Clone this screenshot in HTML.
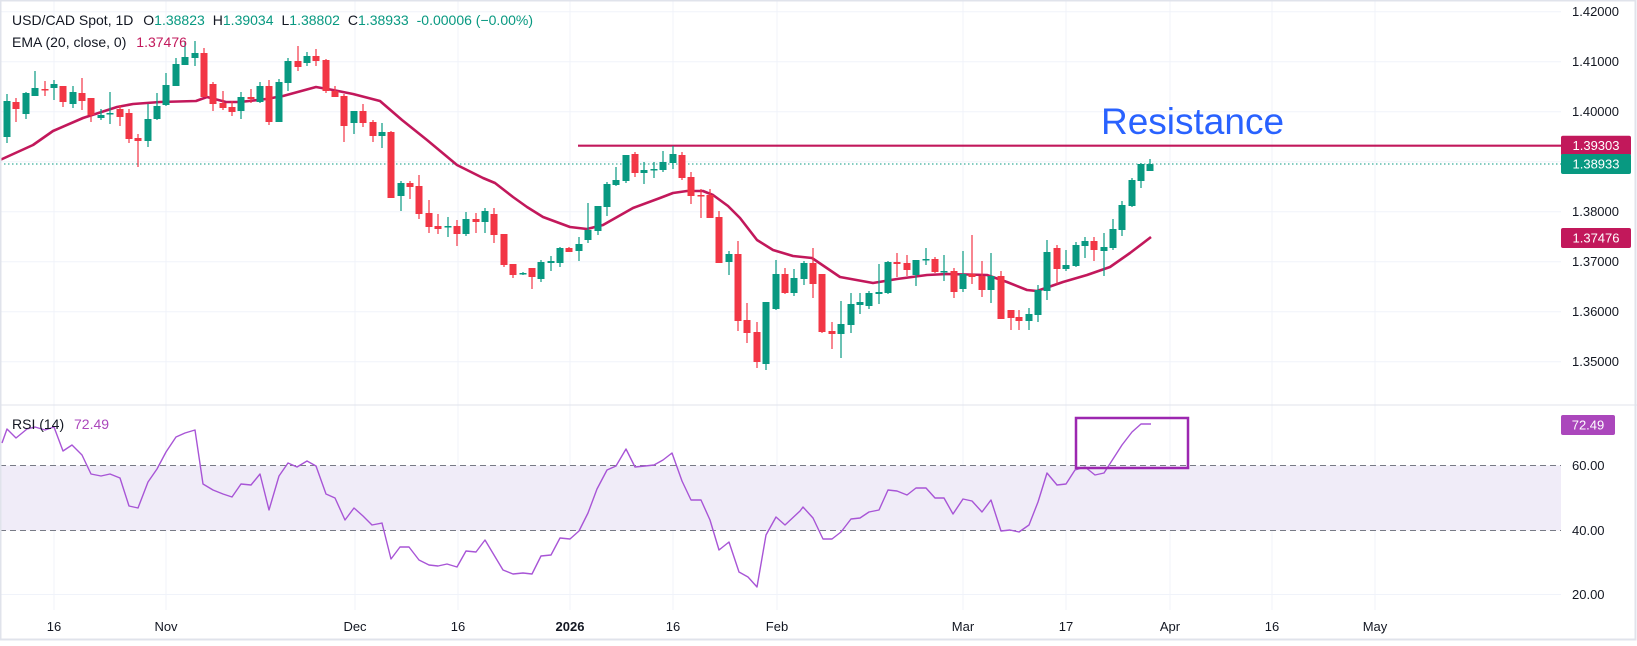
<!DOCTYPE html>
<html><head><meta charset="utf-8">
<style>
html,body{margin:0;padding:0;background:#fff;}
body{width:1637px;height:641px;overflow:hidden;font-family:"Liberation Sans",sans-serif;}
svg text{font-family:"Liberation Sans",sans-serif;}
</style></head>
<body>
<svg id="c" width="1637" height="641" viewBox="0 0 1637 641" xmlns="http://www.w3.org/2000/svg">
<rect x="0" y="0" width="1637" height="641" fill="#fff"/>
<!-- grid -->
<g stroke="#f0f3fa" stroke-width="1">
<line x1="0" y1="11.7" x2="1561" y2="11.7"/><line x1="0" y1="61.7" x2="1561" y2="61.7"/>
<line x1="0" y1="111.7" x2="1561" y2="111.7"/><line x1="0" y1="161.7" x2="1561" y2="161.7"/>
<line x1="0" y1="211.7" x2="1561" y2="211.7"/><line x1="0" y1="261.7" x2="1561" y2="261.7"/>
<line x1="0" y1="311.7" x2="1561" y2="311.7"/><line x1="0" y1="361.7" x2="1561" y2="361.7"/>
<line x1="0" y1="594.5" x2="1561" y2="594.5"/>
<line x1="54" y1="0" x2="54" y2="610"/><line x1="166" y1="0" x2="166" y2="610"/>
<line x1="355" y1="0" x2="355" y2="610"/><line x1="458" y1="0" x2="458" y2="610"/>
<line x1="570" y1="0" x2="570" y2="610"/><line x1="673" y1="0" x2="673" y2="610"/>
<line x1="777" y1="0" x2="777" y2="610"/><line x1="963" y1="0" x2="963" y2="610"/>
<line x1="1066" y1="0" x2="1066" y2="610"/><line x1="1170" y1="0" x2="1170" y2="610"/>
<line x1="1272" y1="0" x2="1272" y2="610"/><line x1="1375" y1="0" x2="1375" y2="610"/>
</g>
<!-- pane separator -->
<line x1="0" y1="405" x2="1637" y2="405" stroke="#e0e3eb" stroke-width="1"/>
<!-- RSI band -->
<rect x="0" y="465.5" width="1561" height="65" fill="#f0ecf8"/>
<line x1="0" y1="465.5" x2="1561" y2="465.5" stroke="#787b86" stroke-dasharray="6,4"/>
<line x1="0" y1="530.5" x2="1561" y2="530.5" stroke="#787b86" stroke-dasharray="6,4"/>
<!-- last price dotted -->
<line x1="0" y1="164" x2="1561" y2="164" stroke="#089981" stroke-width="1" stroke-dasharray="1.5,2.5"/>
<!-- resistance -->
<line x1="578" y1="145.7" x2="1561" y2="145.7" stroke="#c2185b" stroke-width="2.2"/>
<text x="1101" y="134" font-size="37" fill="#2962ff">Resistance</text>
<!-- EMA -->
<polyline fill="none" stroke="#c2185b" stroke-width="2.6" stroke-linejoin="round" points="0,160 33,145 53,131 83,118 117,107 133,104 160,102 196,101 207,97 226,102 240,102 266,99 283,96 316,87 333,90 353,94 380,101 402,120 427,140 457,165 467,170 483,178 495,183 513,197 527,207 543,217 570,227 587,229 603,225 633,208 660,198 673,193 687,191 703,191 713,195 728,206 740,218 757,240 773,250 793,256 812,258 840,277 873,283 897,279 927,275 947,274 987,275 1007,282 1027,290 1037,291 1063,282 1087,275 1110,267 1130,253 1151,237"/>
<g id="candles"></g>
<!-- RSI line -->
<polyline fill="none" stroke="#a855d6" stroke-width="1.4" stroke-linejoin="round" points="2,443 7,429 16,438 27,429 35,427 45,430 54,427 63,451 72,445 82,455 91,474 101,476 110,474 120,478 129,506 138,508 148,482 157,469 166,452 176,437 185,433 195,430 203,484 213,490 223,494 232,497 241,484 251,485 260,474 269,510 279,476 288,463 297,467 307,461 316,466 326,494 335,498 345,520 354,508 363,516 372,525 382,523 391,559 400,547 409,547 419,560 429,565 438,566 447,564 457,567 466,551 476,552 485,540 494,555 503,570 513,574 523,573 532,574 541,556 551,555 560,538 570,539 579,531 588,513 597,489 607,470 616,466 626,449 635,467 645,466 654,465 663,460 672,453 682,481 691,500 701,500 710,520 719,550 729,542 739,572 748,577 757,587 766,535 776,517 785,525 800,511 803,507 813,518 823,539 832,539 841,532 851,519 860,518 869,512 879,510 888,490 897,491 907,495 916,488 926,488 935,498 944,498 953,514 963,499 972,501 982,512 991,500 1001,531 1010,530 1019,532 1029,525 1038,502 1047,473 1057,485 1066,484 1075,470 1085,467 1095,475 1104,473 1113,459 1122,445 1132,432 1141,424 1151,424"/>
<rect x="1076" y="418" width="112" height="50" fill="none" stroke="#9c27b0" stroke-width="2.5"/>
<!-- header -->
<text x="12" y="25" font-size="14" fill="#131722">USD/CAD Spot, 1D <tspan dx="6">O</tspan><tspan fill="#089981">1.38823</tspan><tspan dx="8">H</tspan><tspan fill="#089981">1.39034</tspan><tspan dx="8">L</tspan><tspan fill="#089981">1.38802</tspan><tspan dx="8">C</tspan><tspan fill="#089981">1.38933</tspan><tspan dx="8" fill="#089981">-0.00006 (−0.00%)</tspan></text>
<text x="12" y="47" font-size="14" fill="#131722">EMA (20, close, 0) <tspan dx="6" fill="#c2185b">1.37476</tspan></text>
<text x="12" y="429" font-size="14" fill="#131722">RSI (14) <tspan dx="6" fill="#ab47bc">72.49</tspan></text>
<!-- price axis -->
<g font-size="13" fill="#131722">
<text x="1572" y="16">1.42000</text><text x="1572" y="66">1.41000</text>
<text x="1572" y="116">1.40000</text><text x="1572" y="216">1.38000</text>
<text x="1572" y="266">1.37000</text><text x="1572" y="316">1.36000</text>
<text x="1572" y="366">1.35000</text>
<text x="1572" y="470">60.00</text><text x="1572" y="535">40.00</text><text x="1572" y="599">20.00</text>
</g>
<rect x="1561" y="135.7" width="70" height="20" rx="2" fill="#c2185b"/>
<text x="1596" y="150.2" font-size="13" fill="#fff" text-anchor="middle">1.39303</text>
<rect x="1561" y="154" width="70" height="20" rx="2" fill="#089981"/>
<text x="1596" y="168.5" font-size="13" fill="#fff" text-anchor="middle">1.38933</text>
<rect x="1561" y="228" width="70" height="20" rx="2" fill="#c2185b"/>
<text x="1596" y="242.5" font-size="13" fill="#fff" text-anchor="middle">1.37476</text>
<rect x="1561" y="415" width="54" height="20" rx="2" fill="#ab47bc"/>
<text x="1588" y="429.5" font-size="13" fill="#fff" text-anchor="middle">72.49</text>
<!-- time axis -->
<g font-size="13" fill="#131722" text-anchor="middle">
<text x="54" y="631">16</text><text x="166" y="631">Nov</text><text x="355" y="631">Dec</text>
<text x="458" y="631">16</text><text x="570" y="631" font-weight="bold">2026</text><text x="673" y="631">16</text>
<text x="777" y="631">Feb</text><text x="963" y="631">Mar</text><text x="1066" y="631">17</text>
<text x="1170" y="631">Apr</text><text x="1272" y="631">16</text><text x="1375" y="631">May</text>
</g>
<rect x="0.5" y="0.5" width="1635" height="639" fill="none" stroke="#e0e3eb" stroke-width="2"/>
</svg>
<script>
var d=[[7,101,137,94,143,1],[16,102,109,98,122,0],[26,93,114,92,119,1],[35,88,96,71,96,1],[45,89,90,81,96,0],[54,84,88,80,100,1],[63,86,102,86,107,0],[73,92,104,86,108,1],[82,93,101,78,110,0],[91,98,115,98,122,0],[101,115,118,109,120,1],[110,113,114,92,124,1],[120,109,117,105,126,0],[129,113,139,109,143,0],[138,138,141,134,167,0],[148,119,141,104,147,1],[157,106,119,93,120,1],[166,85,105,73,106,1],[176,64,86,58,86,1],[185,57,65,41,65,1],[195,53,58,41,66,1],[204,53,97,48,97,0],[213,84,104,82,111,0],[223,103,108,91,110,0],[232,107,112,101,116,0],[241,97,111,92,119,1],[251,97,99,89,103,0],[260,86,102,82,103,1],[269,86,122,80,125,0],[279,82,122,79,122,1],[288,61,83,58,91,1],[298,61,67,46,71,0],[307,56,63,52,66,1],[316,56,61,49,66,0],[326,60,91,59,93,0],[335,91,97,86,97,0],[344,96,126,94,142,0],[354,111,123,111,134,1],[363,111,123,104,127,0],[373,122,136,120,142,0],[382,132,136,123,148,1],[391,132,198,131,198,0],[401,183,196,181,211,1],[410,183,187,181,199,0],[419,186,214,175,219,0],[429,213,227,200,233,0],[438,226,229,214,234,0],[448,226,227,217,237,1],[457,226,234,220,246,0],[466,219,234,212,236,1],[476,219,222,213,233,0],[485,211,222,208,233,1],[494,214,235,208,243,0],[504,234,265,234,267,0],[513,264,275,264,278,0],[523,273,274,272,275,1],[532,268,277,268,289,0],[541,262,279,260,282,1],[551,261,263,256,271,1],[560,248,263,247,267,1],[569,248,252,247,252,0],[579,244,251,237,261,1],[588,230,240,203,243,1],[598,206,231,206,235,1],[607,184,207,182,216,1],[616,180,185,167,186,1],[626,155,181,155,183,1],[635,154,173,152,177,0],[644,170,173,162,184,1],[654,169,170,162,178,1],[663,162,170,151,172,1],[673,154,163,146,169,1],[682,155,178,152,180,0],[691,177,196,172,204,0],[701,195,196,189,218,0],[710,195,218,189,218,0],[719,217,263,211,263,0],[729,254,262,251,275,1],[738,254,321,241,331,0],[747,320,333,303,343,0],[757,332,362,322,368,0],[766,302,364,302,370,1],[776,274,309,260,310,1],[785,274,293,268,294,0],[794,278,293,269,296,1],[804,263,279,261,285,1],[813,263,284,248,298,0],[822,274,332,274,333,0],[832,331,334,322,349,0],[841,324,334,301,358,1],[851,304,325,293,333,1],[860,302,305,293,314,1],[869,293,306,291,309,1],[879,292,294,264,304,1],[888,262,293,261,294,1],[897,262,264,253,277,0],[907,263,270,255,276,0],[916,260,275,260,286,1],[926,259,260,248,265,1],[935,259,272,257,273,0],[944,271,272,255,281,1],[954,271,292,268,298,0],[963,274,289,251,292,1],[972,274,277,235,284,0],[982,276,290,261,297,0],[991,276,290,253,303,1],[1001,276,319,271,319,0],[1011,310,318,310,330,0],[1019,317,321,310,330,0],[1029,314,321,308,330,1],[1038,290,315,285,322,1],[1047,252,291,240,300,1],[1057,248,269,245,284,0],[1066,265,269,250,271,1],[1076,245,266,242,267,1],[1085,241,246,237,258,1],[1094,241,250,237,261,0],[1104,247,251,233,276,1],[1113,229,248,219,250,1],[1122,205,230,201,236,1],[1132,180,206,178,207,1],[1141,164,181,163,188,1],[1150,164,171,159,171,1]];
var g=document.getElementById('candles'),ns='http://www.w3.org/2000/svg',h='';
d.forEach(function(c){var col=c[5]?'#089981':'#f23645';var bh=Math.max(1.5,c[2]-c[1]);
h+='<line x1="'+c[0]+'" x2="'+c[0]+'" y1="'+c[3]+'" y2="'+c[4]+'" stroke="'+col+'" stroke-width="1.2"/>';
h+='<rect x="'+(c[0]-3.5)+'" y="'+c[1]+'" width="7" height="'+bh+'" fill="'+col+'"/>';});
g.innerHTML=h;
</script>
</body></html>
